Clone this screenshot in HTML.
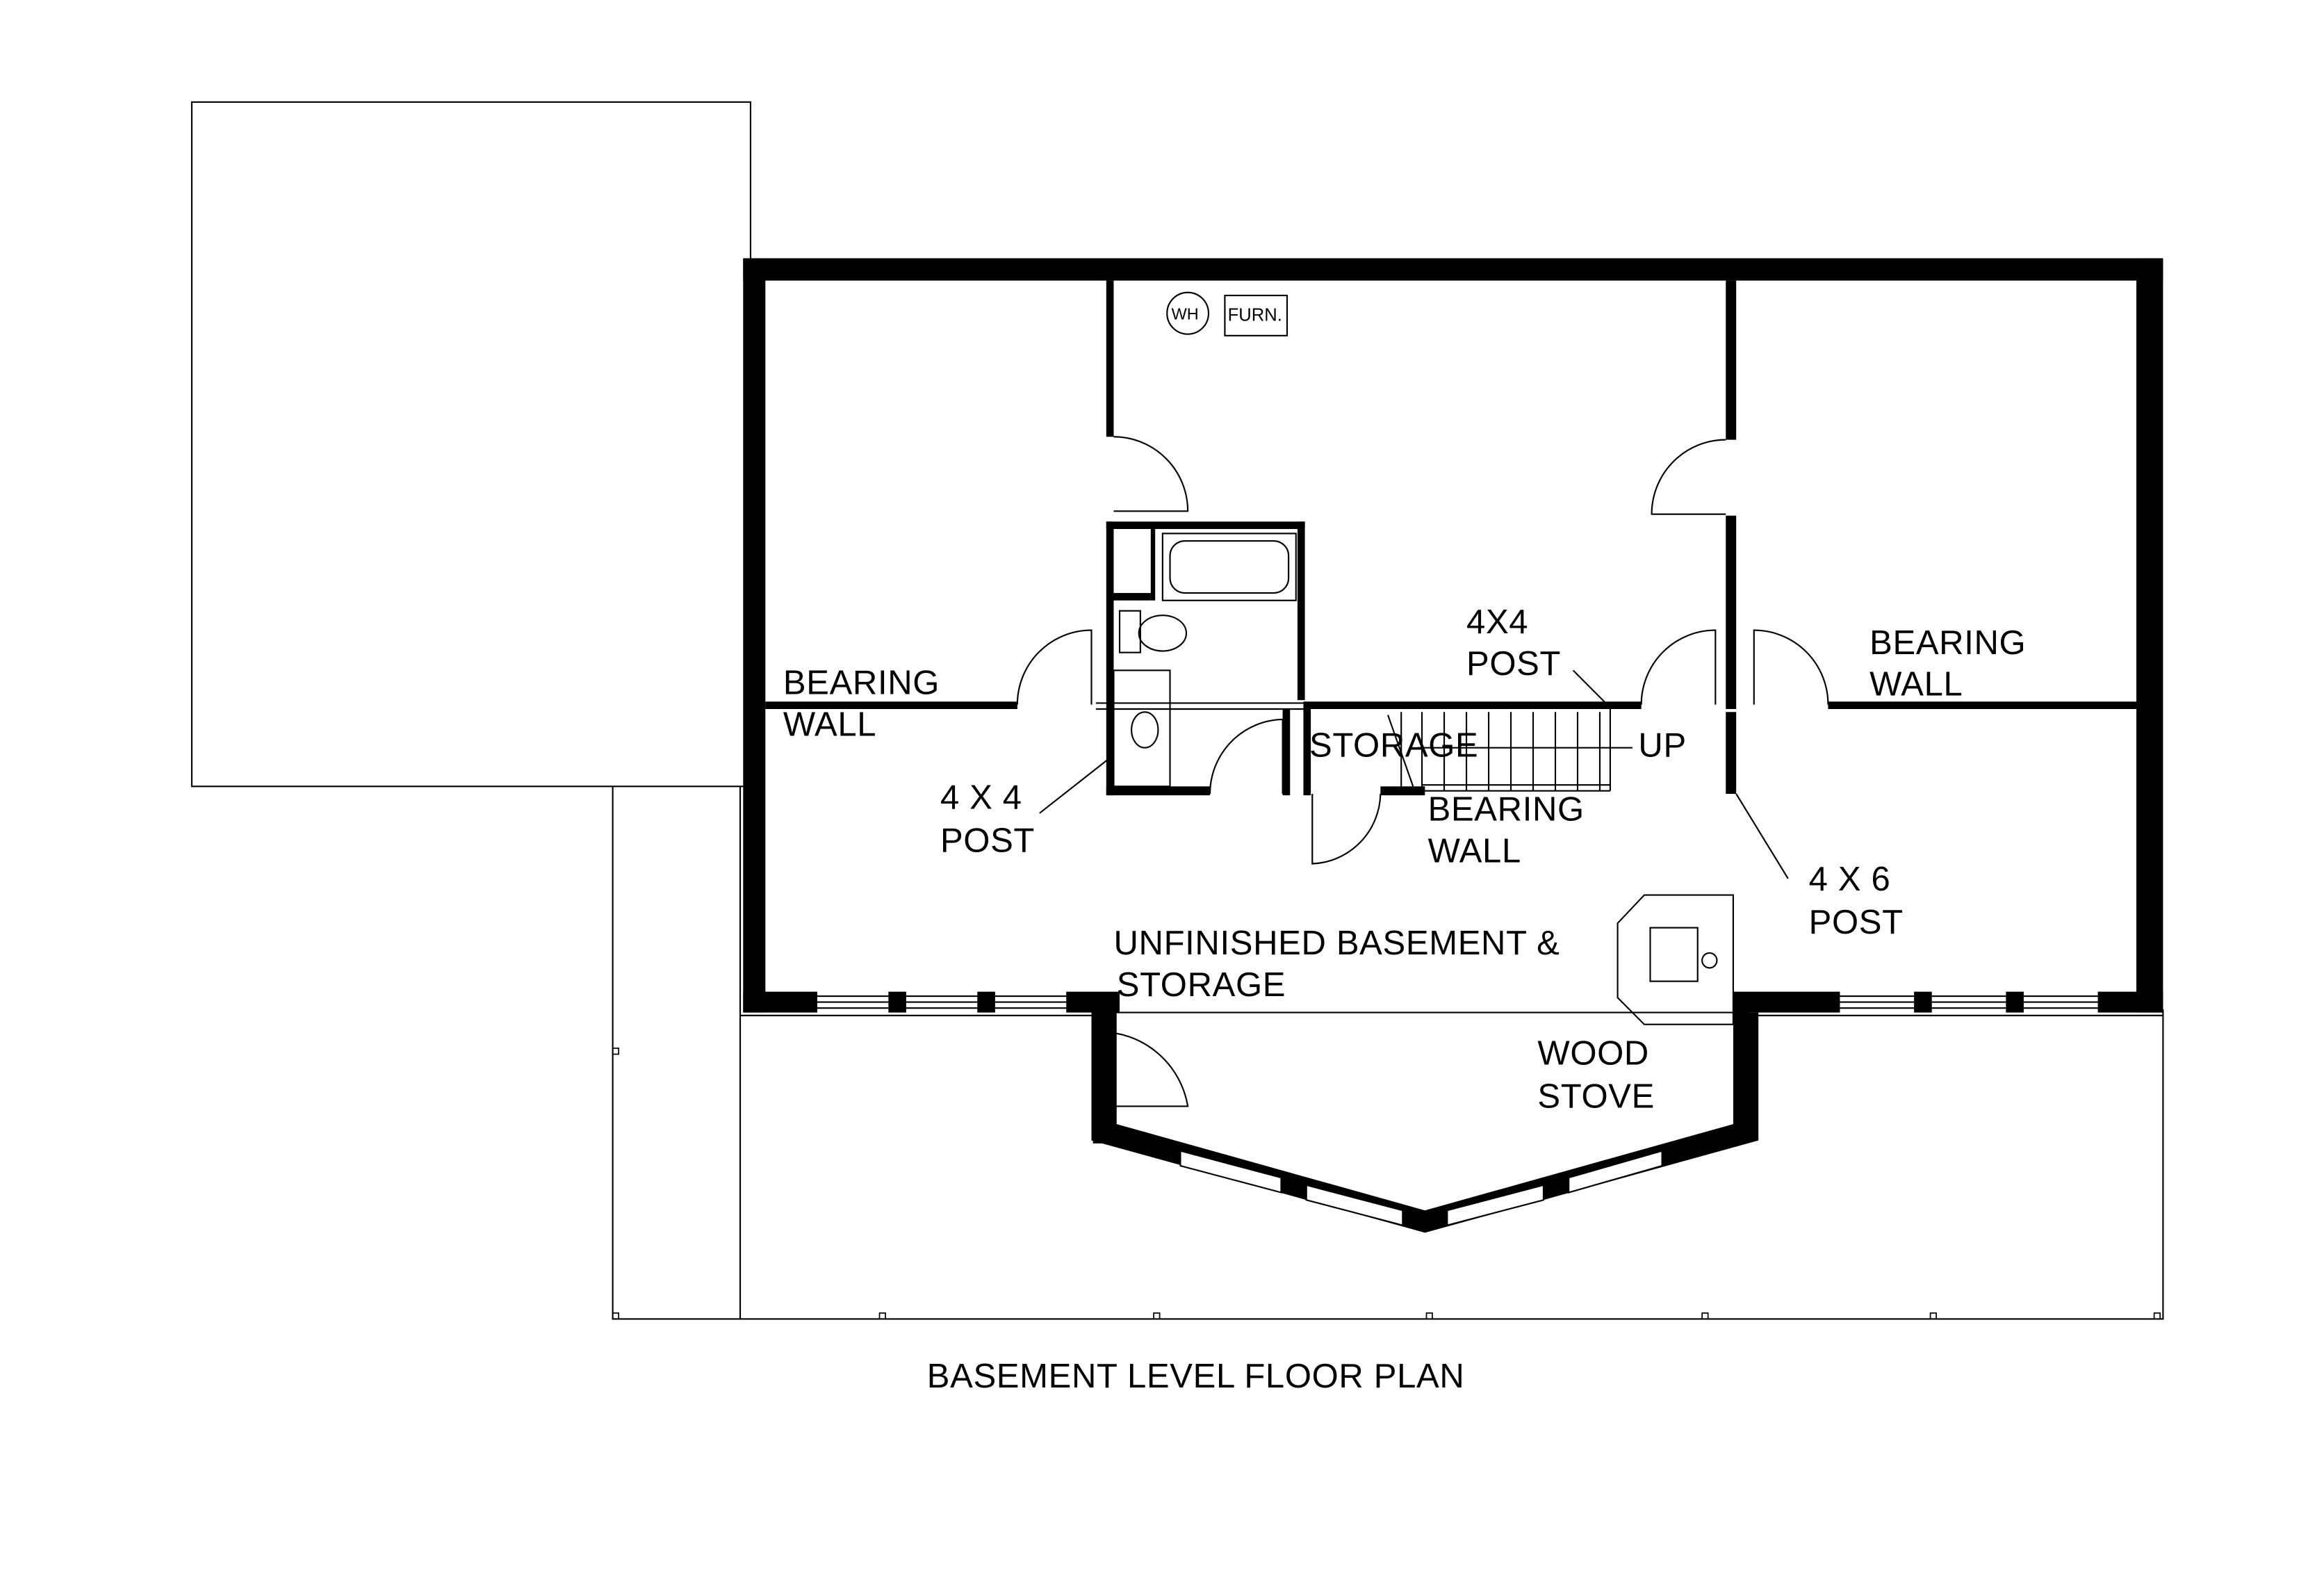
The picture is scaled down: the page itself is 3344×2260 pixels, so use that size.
<!DOCTYPE html>
<html><head><style>html,body{margin:0;padding:0;background:#fff}svg{display:block}text{font-family:"Liberation Sans",Arial,sans-serif;font-size:23px;letter-spacing:0.3px;fill:#000}</style></head>
<body>
<svg width="3344" height="2260" viewBox="-1.4 1.4 1568 1056" preserveAspectRatio="none" xmlns="http://www.w3.org/2000/svg">
<g fill="none" stroke="#000" stroke-width="1">
<rect x="128" y="70" width="377" height="460"/>
<polyline points="412,530 412,888 1458,888 1458,680"/>
<line x1="498" y1="530" x2="498" y2="888"/>
<line x1="498" y1="684" x2="740" y2="684"/>
<line x1="1180" y1="684" x2="1458" y2="684"/>
<line x1="750" y1="682" x2="1178" y2="682"/>
</g>
<g fill="#000">
<rect x="500" y="175" width="958" height="15"/>
<rect x="500" y="175" width="15" height="507"/>
<rect x="1440" y="175" width="18" height="507"/>
<rect x="500" y="668" width="50" height="14"/>
<rect x="598" y="668" width="12" height="14"/>
<rect x="658" y="668" width="12" height="14"/>
<rect x="718" y="668" width="36" height="14"/>
<rect x="1168" y="668" width="72" height="14"/>
<rect x="1290" y="668" width="12" height="14"/>
<rect x="1352" y="668" width="12" height="14"/>
<rect x="1414" y="668" width="44" height="14"/>
<rect x="745" y="190" width="5" height="105"/>
<rect x="1163" y="190" width="7" height="107"/>
<rect x="1163" y="348" width="7" height="130"/>
<rect x="1163" y="480" width="7" height="55"/>
<rect x="515" y="473" width="170" height="5"/>
<rect x="878" y="473" width="228" height="5"/>
<rect x="1232" y="473" width="208" height="5"/>
<rect x="745" y="352" width="134" height="5"/>
<rect x="745" y="352" width="5" height="184"/>
<rect x="874" y="352" width="5" height="120"/>
<rect x="745" y="530" width="70" height="6"/>
<rect x="750" y="400" width="25" height="5"/>
<rect x="775" y="357" width="3" height="48"/>
<rect x="864" y="478" width="5" height="58"/>
<rect x="878" y="478" width="5" height="58"/>
<rect x="930" y="530" width="30" height="6"/>
<polygon points="735,670 752,670 752,757 960,815 1168,757 1168,682 1185,682 1185,768 960,830 735,768"/>
<rect x="736" y="745" width="14" height="25"/>
</g>
<g fill="#fff" stroke="#000" stroke-width="1">
<polygon points="795,775 863,793 863,803 795,785"/>
<polygon points="880,798 945,815 945,825 880,808"/>
<polygon points="975,815 1040,798 1040,808 975,825"/>
<polygon points="1057,793 1120,775 1120,785 1057,803"/>
</g>
<g fill="#000"><polygon points="863,791 880,796 880,808 863,803"/><polygon points="1040,796 1057,791 1057,803 1040,808"/></g>
<g fill="none" stroke="#000" stroke-width="1">
<path d="M550,671H598M550,675H598M550,679H598M610,671H658M610,675H658M610,679H658M670,671H718M670,675H718M670,679H718M1240,671H1290M1240,675H1290M1240,679H1290M1302,671H1352M1302,675H1352M1302,679H1352M1364,671H1414M1364,675H1414M1364,679H1414"/>
<path d="M750,295 A50,50 0 0 1 800,345 H750"/>
<path d="M1163,297 A50,50 0 0 0 1113,347 H1163"/>
<path d="M685,475 A50,50 0 0 1 735,425 V475"/>
<path d="M1106,475 A50,50 0 0 1 1156,425 V475"/>
<path d="M1232,475 A50,50 0 0 0 1182,425 V475"/>
<path d="M815,535 A50,50 0 0 1 864,485 V535"/>
<path d="M930,535 A48,48 0 0 1 884,582 V535"/>
<path d="M740,695 A60,60 0 0 1 800,745 H740"/>
<rect x="783" y="360" width="90" height="45"/>
<rect x="788" y="365" width="80" height="35" rx="10"/>
<rect x="754" y="412" width="14" height="28"/>
<ellipse cx="783" cy="427" rx="16" ry="12"/>
<rect x="750" y="452" width="38" height="78"/>
<ellipse cx="771" cy="492" rx="9" ry="12"/>
<line x1="738" y1="474" x2="878" y2="474"/><line x1="738" y1="478" x2="878" y2="478"/>
<path d="M944,480V533M958,480V533M973,480V533M988,480V533M1003,480V533M1018,480V533M1033,480V533M1048,480V533M1063,480V533M1078,480V533"/>
<line x1="958" y1="533" x2="1085" y2="533"/><line x1="958" y1="529" x2="1085" y2="529"/>
<line x1="1085" y1="478" x2="1085" y2="533"/>
<line x1="955" y1="504" x2="1100" y2="504"/>
<line x1="935" y1="482" x2="952" y2="530"/>
<line x1="1060" y1="452" x2="1084" y2="476"/>
<line x1="700" y1="548" x2="746" y2="512"/>
<line x1="1170" y1="535" x2="1205" y2="592"/>
<polygon points="1108,603 1168,603 1168,690 1108,690 1090,672 1090,622"/>
<rect x="1112" y="625" width="32" height="36"/>
<circle cx="1152" cy="647" r="5"/>
<circle cx="800" cy="212" r="14"/>
<rect x="825" y="200" width="42" height="27"/>
</g>
<text x="789" y="216" style="font-size:11px;letter-spacing:0">WH</text><text x="827" y="217" style="font-size:12px;letter-spacing:0">FURN.</text>
<g fill="none" stroke="#000" stroke-width="0.8">
<rect x="412" y="706" width="4" height="4"/><rect x="412" y="884" width="4" height="4"/><rect x="592" y="884" width="4" height="4"/><rect x="777" y="884" width="4" height="4"/><rect x="961" y="884" width="4" height="4"/><rect x="1147" y="884" width="4" height="4"/><rect x="1301" y="884" width="4" height="4"/><rect x="1452" y="884" width="4" height="4"/>
</g>
<text x="527" y="468">BEARING</text><text x="527" y="496">WALL</text>
<text x="1260" y="441">BEARING</text><text x="1260" y="469">WALL</text>
<text x="988" y="427">4X4</text><text x="988" y="455">POST</text>
<text x="633" y="545">4 X 4</text><text x="633" y="574">POST</text>
<text x="882" y="510">STORAGE</text><text x="1104" y="510">UP</text>
<text x="962" y="553">BEARING</text><text x="962" y="581">WALL</text>
<text x="1219" y="600">4 X 6</text><text x="1219" y="629">POST</text>
<text x="750" y="643">UNFINISHED BASEMENT &amp;</text><text x="752" y="671">STORAGE</text>
<text x="1036" y="717">WOOD</text><text x="1036" y="746">STOVE</text>
<text x="624" y="934">BASEMENT LEVEL FLOOR PLAN</text>
</svg>
</body></html>
